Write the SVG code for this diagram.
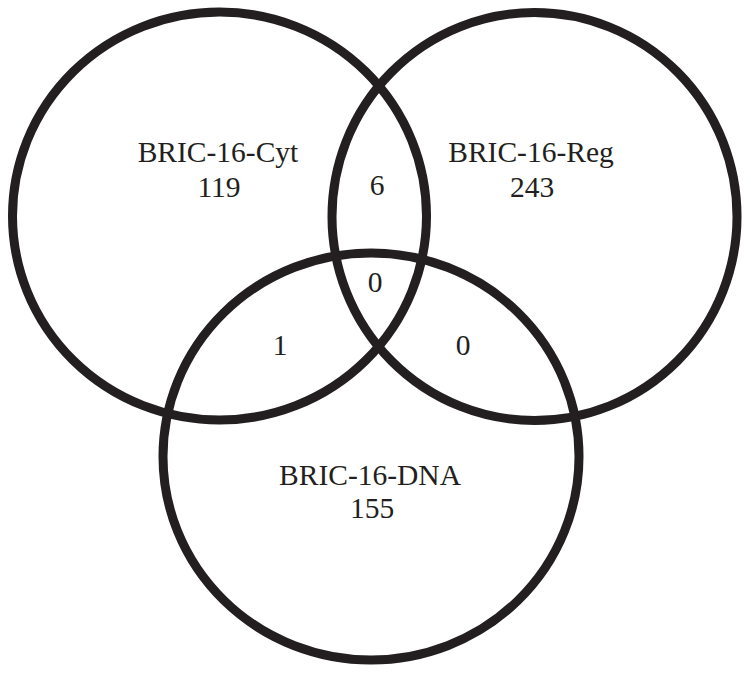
<svg xmlns="http://www.w3.org/2000/svg" width="751" height="673" viewBox="0 0 751 673">
<style>
.c{fill:none;stroke:#231f20;stroke-width:9}
.t{font-family:"Liberation Serif","Times New Roman",serif;font-size:29.5px;fill:#231f20;text-anchor:middle}
</style>
<rect width="751" height="673" fill="#ffffff"/>
<g id="cyt">
<ellipse class="c" cx="219.5" cy="216" rx="207" ry="204"/>
<text class="t" x="218" y="162">BRIC-16-Cyt</text>
<text class="t" x="219" y="197">119</text>
</g>
<g id="reg">
<ellipse class="c" cx="534.5" cy="216.5" rx="202.5" ry="204"/>
<text class="t" x="531" y="162">BRIC-16-Reg</text>
<text class="t" x="532" y="197">243</text>
</g>
<g id="dna">
<ellipse class="c" cx="371" cy="456.5" rx="208" ry="203.5"/>
<text class="t" x="370" y="485">BRIC-16-DNA</text>
<text class="t" x="372" y="518">155</text>
</g>
<g id="overlaps">
<text class="t" x="377" y="195">6</text>
<text class="t" x="375" y="292">0</text>
<text class="t" x="280" y="355">1</text>
<text class="t" x="463" y="355">0</text>
</g>
</svg>
